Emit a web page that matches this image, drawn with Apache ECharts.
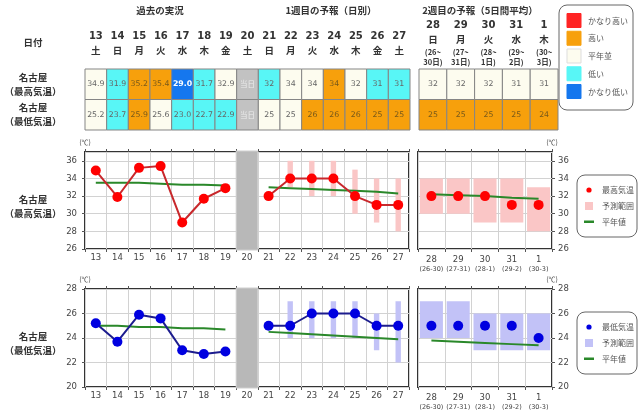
<!DOCTYPE html>
<html>
<head>
<meta charset="utf-8">
<script src="https://cdn.jsdelivr.net/npm/echarts@6/dist/echarts.min.js"></script>
<style>
html, body { margin: 0; padding: 0; background: #fff; }
#main { width: 640px; height: 413px; }
</style>
</head>
<body>
<div id="main"></div>
<script>
// 日付
const days1 = ['13','14','15','16','17','18','19','20','21','22','23','24','25','26','27'];
const weekdays1 = ['土','日','月','火','水','木','金','土','日','月','火','水','木','金','土'];
const days2 = ['28','29','30','31','1'];
const weekdays2 = ['日','月','火','水','木'];
const spanFrom2 = ['(26~','(27~','(28~','(29~','(30~'];
const spanTo2 = ['30日)','31日)','1日)','2日)','3日)'];
const spans2 = ['(26-30)','(27-31)','(28-1)','(29-2)','(30-3)'];

// 表 (n=平年並 h=高い vh=かなり高い l=低い vl=かなり低い t=当日)
const maxText1 = ['34.9','31.9','35.2','35.4','29.0','31.7','32.9','当日','32','34','34','34','32','31','31'];
const maxClass1 = ['n','l','h','h','vl','l','n','t','l','n','n','h','n','l','l'];
const minText1 = ['25.2','23.7','25.9','25.6','23.0','22.7','22.9','当日','25','25','26','26','26','25','25'];
const minClass1 = ['n','l','h','n','l','l','l','t','n','n','h','h','h','h','h'];
const maxText2 = ['32','32','32','31','31'];
const maxClass2 = ['n','n','n','n','n'];
const minText2 = ['25','25','25','25','24'];
const minClass2 = ['h','h','h','h','h'];

// 最高気温
const maxObs = [34.9, 31.9, 35.2, 35.4, 29.0, 31.7, 32.9];
const maxNormPast = [33.5, 33.5, 33.5, 33.4, 33.3, 33.3, 33.2];
const maxFcst1 = [32, 34, 34, 34, 32, 31, 31];
const maxLo1 = [null, 33, 32, 32, 30, 29, 28];
const maxHi1 = [null, 36, 36, 36, 35, 34, 34];
const maxNorm1 = [33.0, 32.9, 32.8, 32.7, 32.6, 32.5, 32.3];
const maxFcst2 = [32, 32, 32, 31, 31];
const maxLo2 = [30, 30, 29, 29, 28];
const maxHi2 = [34, 34, 34, 34, 33];
const maxNorm2 = [32.2, 32.1, 32.0, 31.8, 31.7];

// 最低気温
const minObs = [25.2, 23.7, 25.9, 25.6, 23.0, 22.7, 22.9];
const minNormPast = [25.0, 25.0, 24.9, 24.9, 24.8, 24.8, 24.7];
const minFcst1 = [25, 25, 26, 26, 26, 25, 25];
const minLo1 = [null, 24, 24, 24, 24, 23, 22];
const minHi1 = [null, 27, 27, 27, 27, 26, 27];
const minNorm1 = [24.5, 24.4, 24.3, 24.2, 24.1, 24.0, 23.9];
const minFcst2 = [25, 25, 25, 25, 24];
const minLo2 = [24, 24, 23, 23, 23];
const minHi2 = [27, 27, 26, 26, 26];
const minNorm2 = [23.8, 23.7, 23.6, 23.5, 23.4];

const JP = '"Noto Sans CJK JP", sans-serif';
const NUM = '"DejaVu Sans", "Noto Sans CJK JP", sans-serif';

const CELL = { vh: '#ff2424', h: '#f7a00c', n: '#fdfcef', l: '#58f6f6', vl: '#1577ee', t: '#c2c2c2' };
const RED_LINE = '#c8282c', RED_DOT = '#ff0000', PINK = '#fac6c6';
const BLUE_LINE = '#1c1c8e', BLUE_DOT = '#0000e0', LAV = '#c2c2f7';
const GREEN = '#2a882a';

const W1 = 8; // 21日の位置
const pad = n => Array(n).fill('-');

function cellRender(rows) {
  return function (params, api) {
    const col = api.value(0), row = api.value(1);
    const c = api.coord([col, row]);
    const s = api.size([1, 1]);
    const cls = rows[row].cls[col];
    const txt = rows[row].txt[col];
    return {
      type: 'group',
      children: [
        { type: 'rect', shape: { x: c[0] - s[0] / 2, y: c[1] - s[1] / 2, width: s[0], height: s[1] },
          style: { fill: CELL[cls], stroke: '#858585', lineWidth: 1 } },
        { type: 'text', style: { text: txt, x: c[0], y: c[1], textAlign: 'center', textVerticalAlign: 'middle',
          font: (cls === 'vl' ? 'bold ' : '') + (cls === 't' ? '7.5px ' + JP : '7.8px ' + NUM),
          fill: cls === 'vl' ? '#ffffff' : (cls === 't' ? '#ececec' : (cls === 'h' ? '#7a5a1a' : '#666666')) } }
      ]
    };
  };
}

function cellData(n) {
  const d = [];
  for (let i = 0; i < n; i++) { d.push([i, 0]); d.push([i, 1]); }
  return d;
}

function rangeRender(color, frac) {
  return function (params, api) {
    const x = api.value(0);
    const p1 = api.coord([x, api.value(2)]);
    const p2 = api.coord([x, api.value(1)]);
    const w = api.size([1, 0])[0] * frac;
    return { type: 'rect', shape: { x: p1[0] - w / 2, y: p1[1], width: w, height: p2[1] - p1[1] },
      style: { fill: color } };
  };
}

function bandRender(params, api) {
  const cs = params.coordSys;
  const c = api.coord([api.value(0), 0]);
  const w = api.size([1, 0])[0];
  return { type: 'rect', shape: { x: c[0] - w / 2, y: cs.y - 1, width: w, height: cs.height + 2 },
    style: { fill: '#b8b8b8', stroke: '#cfcfcf', lineWidth: 1 } };
}

function rangeData(lo, hi, off) {
  const d = [];
  lo.forEach((v, i) => { if (v != null) d.push([i + off, v, hi[i]]); });
  return d;
}

const chartGrid = (left, top, width, height) => ({ left, top, width, height, show: true,
  borderColor: '#333', borderWidth: 2, outerBoundsMode: 'none', containLabel: false });

const grids = [
  { left: 85, top: 69, width: 325, height: 61, outerBoundsMode: 'none' },
  { left: 419, top: 69, width: 139, height: 61, outerBoundsMode: 'none' },
  chartGrid(85, 152, 324, 97),
  chartGrid(418, 152, 134, 97),
  chartGrid(85, 289, 324, 98),
  chartGrid(418, 289, 134, 98)
];

const catLine = { show: true, interval: 0, lineStyle: { color: '#d2d2d2', width: 1 } };
const tick = { show: true, interval: 0, length: 3, lineStyle: { color: '#555' } };

function chartX(gi, data, fmt) {
  return { type: 'category', gridIndex: gi, data, position: 'bottom',
    axisLine: { show: false }, axisTick: tick, splitLine: catLine,
    axisLabel: { interval: 0, margin: 5, color: '#444', fontSize: 8.5, fontFamily: NUM, formatter: fmt,
      rich: { n: { fontSize: 8.5, fontFamily: NUM, color: '#444', lineHeight: 11 },
              s: { fontSize: 6.5, fontFamily: NUM, color: '#444', lineHeight: 9 } } } };
}

function topTickX(gi, data) {
  return { type: 'category', gridIndex: gi, data, position: 'top',
    axisLine: { show: false }, axisTick: tick, axisLabel: { show: false }, splitLine: { show: false } };
}

function chartY(gi, min, max, pos) {
  return { type: 'value', gridIndex: gi, min, max, interval: 2, position: pos,
    name: '(℃)', nameLocation: 'end', nameGap: 6,
    nameTextStyle: { fontSize: 7, color: '#444', fontFamily: JP, align: 'center' },
    axisLine: { show: false }, axisTick: { show: true, length: 3, lineStyle: { color: '#555' } },
    splitLine: { show: true, lineStyle: { color: '#d2d2d2' } },
    axisLabel: { margin: pos === 'left' ? 8 : 6, color: '#444', fontSize: 8.5, fontFamily: NUM, showMaxLabel: min === 20 } };
}

const xAxes = [
  { type: 'category', gridIndex: 0, data: days1, position: 'top',
    axisLine: { show: false }, axisTick: { show: false }, splitLine: { show: false },
    axisLabel: { interval: 0, margin: 12,
      formatter: (v, i) => '{n|' + v + '}\n{w|' + weekdays1[i] + '}',
      rich: { n: { fontSize: 10, fontWeight: 'bold', fontFamily: NUM, color: '#333', lineHeight: 14 },
              w: { fontSize: 9.5, fontWeight: 'bold', fontFamily: JP, color: '#333', lineHeight: 14 } } } },
  { type: 'category', gridIndex: 1, data: days2, position: 'top',
    axisLine: { show: false }, axisTick: { show: false }, splitLine: { show: false },
    axisLabel: { interval: 0, margin: 2,
      formatter: (v, i) => '{n|' + v + '}\n{w|' + weekdays2[i] + '}\n{s|' + spanFrom2[i] + '}\n{s|' + spanTo2[i] + '}',
      rich: { n: { fontSize: 10, fontWeight: 'bold', fontFamily: NUM, color: '#333', lineHeight: 13 },
              w: { fontSize: 9.5, fontWeight: 'bold', fontFamily: JP, color: '#333', lineHeight: 15 },
              s: { fontSize: 7.5, fontWeight: 'bold', fontFamily: JP, color: '#333', lineHeight: 10 } } } },
  chartX(2, days1),
  chartX(3, days2, (v, i) => '{n|' + v + '}\n{s|' + spans2[i] + '}'),
  chartX(4, days1),
  chartX(5, days2, (v, i) => '{n|' + v + '}\n{s|' + spans2[i] + '}'),
  topTickX(2, days1), topTickX(3, days2), topTickX(4, days1), topTickX(5, days2)
];

const yAxes = [
  { type: 'category', gridIndex: 0, inverse: true, data: ['名古屋\n（最高気温）', '名古屋\n（最低気温）'],
    axisLine: { show: false }, axisTick: { show: false }, splitLine: { show: false },
    axisLabel: { align: 'center', margin: 52, fontSize: 9.5, fontWeight: 'bold', fontFamily: JP, color: '#333', lineHeight: 14 } },
  { type: 'category', gridIndex: 1, inverse: true, data: ['max', 'min'],
    axisLine: { show: false }, axisTick: { show: false }, axisLabel: { show: false }, splitLine: { show: false } },
  chartY(2, 26, 37, 'left'),
  chartY(3, 26, 37, 'right'),
  chartY(4, 20, 28, 'left'),
  chartY(5, 20, 28, 'right')
];

function lineSeries(xi, data, lineColor, dotColor, z) {
  return { type: 'line', xAxisIndex: xi, yAxisIndex: xi, data, z,
    symbol: 'circle', symbolSize: 10, connectNulls: false,
    lineStyle: { color: lineColor, width: 2 }, itemStyle: { color: dotColor } };
}
function normSeries(xi, data) {
  return { type: 'line', xAxisIndex: xi, yAxisIndex: xi, data, z: 3, symbol: 'none',
    lineStyle: { color: GREEN, width: 2 } };
}

const series = [
  { type: 'custom', xAxisIndex: 0, yAxisIndex: 0, data: cellData(15),
    renderItem: cellRender([{ txt: maxText1, cls: maxClass1 }, { txt: minText1, cls: minClass1 }]) },
  { type: 'custom', xAxisIndex: 1, yAxisIndex: 1, data: cellData(5),
    renderItem: cellRender([{ txt: maxText2, cls: maxClass2 }, { txt: minText2, cls: minClass2 }]) },

  // 最高気温
  { type: 'custom', xAxisIndex: 2, yAxisIndex: 2, data: [[7]], renderItem: bandRender, z: 5 },
  { type: 'custom', xAxisIndex: 2, yAxisIndex: 2, data: rangeData(maxLo1, maxHi1, W1), renderItem: rangeRender(PINK, 0.25), z: 2 },
  normSeries(2, maxNormPast.concat(pad(8))),
  normSeries(2, pad(W1).concat(maxNorm1)),
  lineSeries(2, maxObs.concat(pad(8)), RED_LINE, RED_DOT, 4),
  lineSeries(2, pad(W1).concat(maxFcst1), RED_LINE, RED_DOT, 4),
  { type: 'custom', xAxisIndex: 3, yAxisIndex: 3, data: rangeData(maxLo2, maxHi2, 0), renderItem: rangeRender(PINK, 0.86), z: 2 },
  normSeries(3, maxNorm2),
  { type: 'scatter', xAxisIndex: 3, yAxisIndex: 3, data: maxFcst2, symbolSize: 10, itemStyle: { color: RED_DOT, opacity: 1 }, z: 4 },

  // 最低気温
  { type: 'custom', xAxisIndex: 4, yAxisIndex: 4, data: [[7]], renderItem: bandRender, z: 5 },
  { type: 'custom', xAxisIndex: 4, yAxisIndex: 4, data: rangeData(minLo1, minHi1, W1), renderItem: rangeRender(LAV, 0.25), z: 2 },
  normSeries(4, minNormPast.concat(pad(8))),
  normSeries(4, pad(W1).concat(minNorm1)),
  lineSeries(4, minObs.concat(pad(8)), BLUE_LINE, BLUE_DOT, 4),
  lineSeries(4, pad(W1).concat(minFcst1), BLUE_LINE, BLUE_DOT, 4),
  { type: 'custom', xAxisIndex: 5, yAxisIndex: 5, data: rangeData(minLo2, minHi2, 0), renderItem: rangeRender(LAV, 0.86), z: 2 },
  normSeries(5, minNorm2),
  { type: 'scatter', xAxisIndex: 5, yAxisIndex: 5, data: minFcst2, symbolSize: 10, itemStyle: { color: BLUE_DOT, opacity: 1 }, z: 4 }
];

// 凡例・見出し
const legendColors = [['vh', 'かなり高い'], ['h', '高い'], ['n', '平年並'], ['l', '低い'], ['vl', 'かなり低い']];
function txt(x, y, text, size, bold, align, color) {
  return { type: 'text', x, y, style: { text, fill: color || '#333', align: align || 'center', verticalAlign: 'middle',
    font: (bold ? 'bold ' : '') + size + 'px ' + JP, lineHeight: 14 } };
}
function chartLegend(top, dotColor, boxColor, label) {
  return [
    { type: 'rect', shape: { x: 577, y: top, width: 60, height: 62, r: 8 }, style: { fill: '#fff', stroke: '#666', lineWidth: 1 } },
    { type: 'circle', shape: { cx: 589, cy: top + 15, r: 2.6 }, style: { fill: dotColor } },
    { type: 'rect', shape: { x: 585, y: top + 27, width: 8, height: 8 }, style: { fill: boxColor } },
    { type: 'rect', shape: { x: 584, y: top + 45.5, width: 10, height: 2.5 }, style: { fill: GREEN } },
    txt(602, top + 15, label, 8, false, 'left', '#555'),
    txt(602, top + 31, '予測範囲', 8, false, 'left', '#555'),
    txt(602, top + 47, '平年値', 8, false, 'left', '#555')
  ];
}

const graphic = [
  txt(160, 10, '過去の実況', 9.5, true),
  txt(331, 10, '1週目の予報（日別）', 9.5, true),
  txt(480, 10, '2週目の予報（5日間平均）', 9.5, true),
  txt(33, 42, '日付', 9.5, true),
  txt(33, 206, '名古屋\n（最高気温）', 9.5, true),
  txt(33, 343, '名古屋\n（最低気温）', 9.5, true),
  { type: 'rect', shape: { x: 559, y: 5, width: 74, height: 105, r: 8 }, style: { fill: '#fff', stroke: '#666', lineWidth: 1 } }
];
legendColors.forEach((d, i) => {
  const y = 13.5 + i * 17.75;
  graphic.push({ type: 'rect', shape: { x: 567, y, width: 14, height: 14 },
    style: { fill: CELL[d[0]], stroke: d[0] === 'n' ? '#ddd' : CELL[d[0]], lineWidth: 1 } });
  graphic.push(txt(588, y + 7, d[1], 8, false, 'left', '#555'));
});
graphic.push(...chartLegend(175, RED_DOT, PINK, '最高気温'));
graphic.push(...chartLegend(312, BLUE_DOT, LAV, '最低気温'));

const chart = echarts.init(document.getElementById('main'));
chart.setOption({
  animation: false,
  backgroundColor: '#ffffff',
  grid: grids,
  xAxis: xAxes,
  yAxis: yAxes,
  series,
  graphic
});
</script>
</body>
</html>
